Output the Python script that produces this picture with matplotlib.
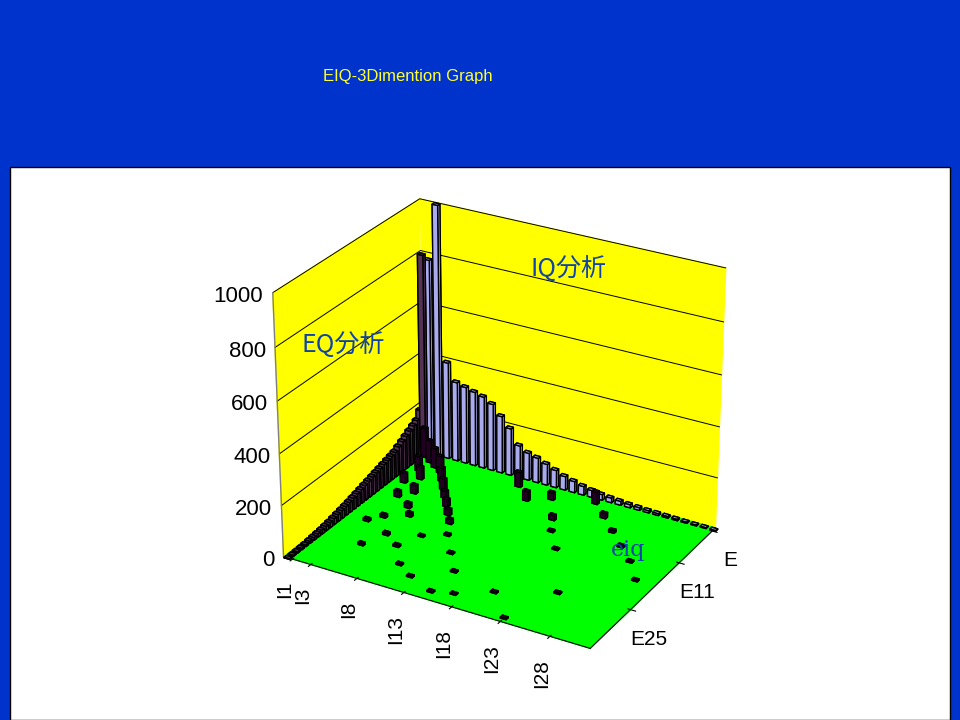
import matplotlib
matplotlib.use("Agg")
import matplotlib.pyplot as plt
import numpy as np

plt.rcParams['font.family'] = ['Noto Sans CJK JP', 'DejaVu Sans']

title = "EIQ-3Dimention Graph"
i_ticks = ["I1", "I3", "I8", "I13", "I18", "I23", "I28"]
i_tick_pos = [1, 3, 8, 13, 18, 23, 28]
e_ticks = ["E", "E11", "E25"]
e_tick_pos = [1, 11, 25]
z_ticks = [0, 200, 400, 600, 800, 1000]
n_i = 32
n_e = 36
# EQ totals per E (left wall row), E1..E36
eq_vals = [800, 190, 160, 150, 140, 130, 120, 110, 100, 95, 90, 85, 80, 75, 70,
           65, 60, 55, 50, 45, 40, 36, 32, 28, 24, 20, 17, 14, 12, 10, 8, 6, 5, 4, 3, 2]
# IQ totals per I (right wall row), I1..I32
iq_vals = [780, 1000, 390, 320, 310, 300, 290, 270, 230, 190, 130, 110, 100, 85, 70,
           55, 45, 35, 28, 22, 18, 15, 12, 10, 8, 7, 6, 5, 4, 3, 3, 2]
# scattered order lines: (I, E, quantity)
pts_i = [1, 2, 3, 2, 4, 3, 5, 2, 6, 4, 7, 3, 8, 5, 9, 6, 10, 4, 12, 3, 14, 6, 16, 8,
         18, 5, 20, 10, 22, 12, 24, 15, 26, 20, 28, 25, 30, 9, 11, 13, 15, 17, 19, 21, 23]
pts_e = [2, 3, 4, 6, 5, 8, 7, 10, 9, 12, 11, 14, 13, 16, 15, 18, 17, 20, 3, 22, 6, 24,
         4, 26, 9, 28, 2, 30, 5, 32, 8, 34, 11, 30, 14, 26, 18, 22, 20, 24, 28, 33, 12, 16, 35]
pts_q = [120, 90, 80, 60, 70, 50, 55, 40, 45, 35, 30, 25, 30, 20, 25, 15, 20, 12, 60, 10,
         40, 10, 30, 8, 20, 8, 50, 6, 20, 5, 10, 5, 8, 5, 6, 5, 5, 5, 6, 5, 5, 4, 6, 5, 4]

fig = plt.figure(figsize=(9.6, 7.2), dpi=100)
fig.patch.set_facecolor("#0033CC")
fig.add_artist(plt.Rectangle((10/960, 0), 940/960, 553/720, transform=fig.transFigure,
                             facecolor="white", edgecolor="black", lw=1, zorder=-5))
fig.text(408/960, 1-77/720, title, color="#FFFF33", fontsize=12, ha="center", va="center",
         family="Liberation Sans")

ax = fig.add_axes([0.245, 0.0, 0.54, 0.83], projection="3d")
ax.set_zorder(2)
ax.patch.set_alpha(0)
w = 0.6
xs = np.zeros(n_e) + 0.2; ys = np.arange(1, n_e+1) - w/2
ax.bar3d(xs, ys, np.zeros(n_e), w, w, eq_vals, color="#553355", edgecolor="black", lw=1, shade=False)
xs = np.arange(1, n_i+1) - w/2; ys = np.zeros(n_i) + 0.2
ax.bar3d(xs, ys, np.zeros(n_i), w, w, iq_vals, color="#AAAAEE", edgecolor="black", lw=1, shade=False)
ax.bar3d(np.array(pts_i)-w/2, np.array(pts_e)-w/2, np.zeros(len(pts_i)), w, w, pts_q,
         color="#220022", edgecolor="black", lw=0.8, shade=False)

ax.set_xlim(0, n_i)
ax.set_ylim(n_e, 0)
ax.set_zlim(0, 1000)
ax.set_box_aspect((1.3, 1.0, 1.08))
ax.view_init(elev=27, azim=-60)
ax.xaxis.set_pane_color((1, 1, 0, 1))
ax.yaxis.set_pane_color((1, 1, 0, 1))
ax.zaxis.set_pane_color((0, 1, 0, 1))
ax.grid(False)
for z in z_ticks[1:]:
    ax.plot([0, 0, n_i], [n_e, 0, 0], [z, z, z], color="black", lw=0.7)
ax.set_xticks(i_tick_pos); ax.set_xticklabels(i_ticks, rotation=90, fontsize=15, family="Liberation Sans")
ax.set_yticks(e_tick_pos); ax.set_yticklabels(e_ticks, fontsize=15, family="Liberation Sans")
ax.set_zticks([])
ax.zaxis.line.set_visible(False)
for z in z_ticks:
    ax.text(-0.3, n_e + 1.5, z, str(z), fontsize=16, family="Liberation Sans",
            ha="right", va="center")
ax.plot([0, 0], [n_e, n_e], [0, 1000], color="gray", lw=1)
ax.text(0, 30, 720, "EQ分析", color="#1144AA", fontsize=18)
ax.text(12, 0, 800, "IQ分析", color="#1144AA", fontsize=18)
ax.text(26, 14, 0, "eiq", color="#1144AA", fontsize=16, family="DejaVu Serif", zorder=10)
fig.savefig("out.png", dpi=100, facecolor=fig.get_facecolor())
